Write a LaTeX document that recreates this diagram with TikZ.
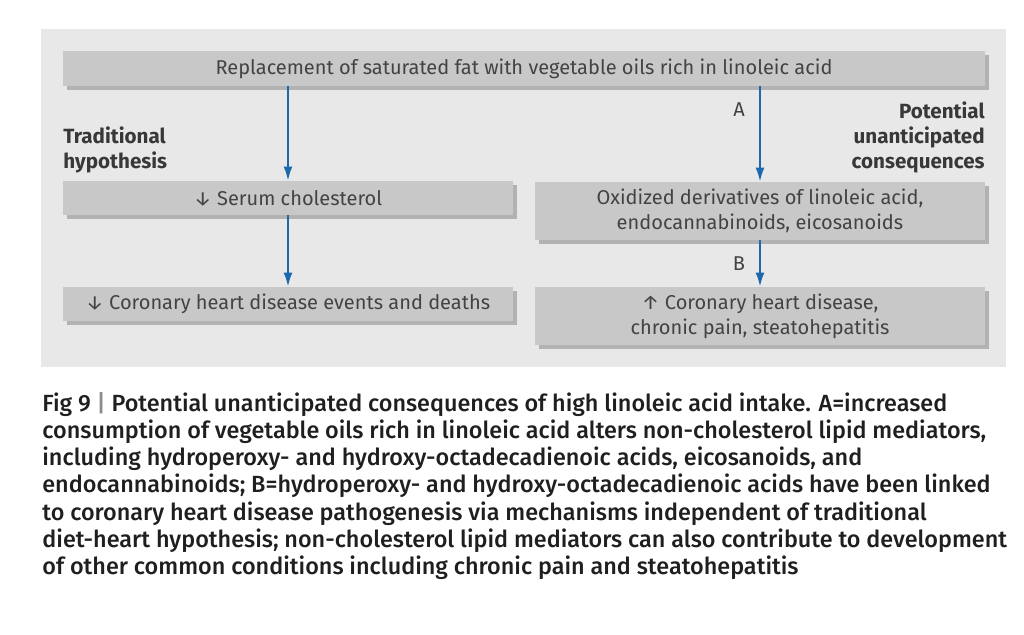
\documentclass[tikz,border=0pt]{standalone}
\usepackage{fontspec}
\setmainfont{Fira Sans}
\newfontfamily\capfont{Fira Sans Medium}
\usetikzlibrary{arrows.meta,shadows}
\definecolor{panelgray}{HTML}{E8E8E8}
\definecolor{boxgray}{HTML}{C8C8C8}
\definecolor{shadegray}{HTML}{B2B2B2}
\definecolor{txtgray}{HTML}{434343}
\definecolor{headgray}{HTML}{383838}
\definecolor{arrblue}{HTML}{1B69AC}
\tikzset{
  flowbox/.style={fill=boxgray, text=txtgray, inner sep=0pt, align=center,
    font=\fontsize{10}{12.5}\selectfont, minimum width=225pt,
    drop shadow={shadow xshift=2pt, shadow yshift=-2pt, fill=shadegray, opacity=1}},
  headtext/.style={text=headgray, inner sep=0pt, font=\bfseries\fontsize{10.3}{12.5}\selectfont},
  lbl/.style={text=txtgray, inner sep=0pt, font=\fontsize{10}{12}\selectfont},
  flow/.style={draw=arrblue, line width=1pt, -{Latex[length=7pt,width=4.5pt]}}
}
\begin{document}
\begin{tikzpicture}[x=0.5pt,y=-0.5pt]
  \useasboundingbox[fill=white] (0,0) rectangle (1024,634);
  \fill[panelgray] (41,29) rectangle (1006,367);
  \node[flowbox, minimum width=461pt, minimum height=17.5pt] (top) at (524,68.5) {Replacement of saturated fat with vegetable oils rich in linoleic acid};
  \node[flowbox, minimum height=17pt] (serum) at (288,198) {↓ Serum cholesterol};
  \node[flowbox, minimum height=17pt] (chd) at (288,304) {↓ Coronary heart disease events and deaths};
  \node[flowbox, minimum height=29pt] (oxid) at (760,211) {Oxidized derivatives of linoleic acid,\\endocannabinoids, eicosanoids};
  \node[flowbox, minimum height=29pt] (cond) at (760,316) {↑ Coronary heart disease,\\chronic pain, steatohepatitis};
  \node[headtext, anchor=north west, align=left] (trad) at (63,126) {Traditional\\hypothesis};
  \node[headtext, anchor=north east, align=right] (pot) at (985,101) {Potential\\unanticipated\\consequences};
  \node[lbl] (la) at (739,110) {A};
  \node[lbl] (lb) at (739,264) {B};
  \draw[flow] (serum|-top.south) -- (serum.north);
  \draw[flow] (oxid|-top.south) -- (oxid.north);
  \draw[flow] (serum.south) -- (chd.north);
  \draw[flow] (oxid.south) -- (cond.north);
  \node[anchor=north west, align=left, inner sep=0pt, text=black!88, font=\capfont\fontsize{11.7}{13.6}\selectfont] (cap) at (42,392)
    {Fig 9 {\color{black!45}|} Potential unanticipated consequences of high linoleic acid intake. A=increased\\
     consumption of vegetable oils rich in linoleic acid alters non-cholesterol lipid mediators,\\
     including hydroperoxy- and hydroxy-octadecadienoic acids, eicosanoids, and\\
     endocannabinoids; B=hydroperoxy- and hydroxy-octadecadienoic acids have been linked\\
     to coronary heart disease pathogenesis via mechanisms independent of traditional\\
     diet-heart hypothesis; non-cholesterol lipid mediators can also contribute to development\\
     of other common conditions including chronic pain and steatohepatitis};
\end{tikzpicture}
\end{document}
